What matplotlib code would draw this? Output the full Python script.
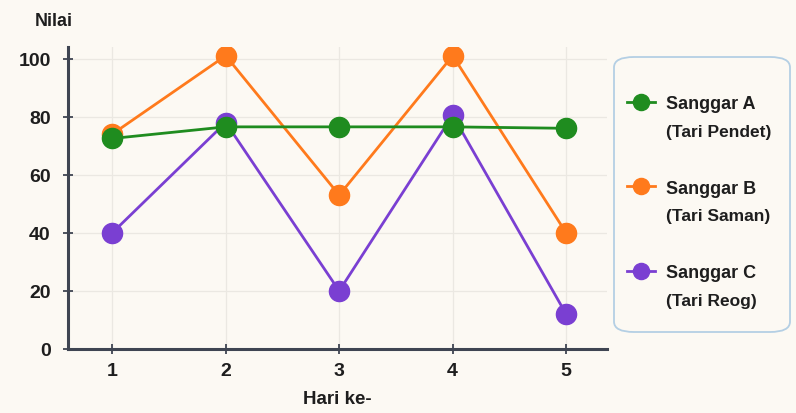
import matplotlib.pyplot as plt
from matplotlib.patches import FancyBboxPatch

hari = [1, 2, 3, 4, 5]
sanggar_a = [72.5, 76.5, 76.5, 76.5, 76]
sanggar_b = [74, 101, 53, 101, 40]
sanggar_c = [40, 78, 20, 80.5, 12]
nama = ['Sanggar A', 'Sanggar B', 'Sanggar C']
tarian = ['(Tari Pendet)', '(Tari Saman)', '(Tari Reog)']
yticks = [0, 20, 40, 60, 80, 100]

plt.rcParams['font.family'] = ['Liberation Sans', 'DejaVu Sans']

W, H = 796, 414
bg = '#fcf9f3'
ink = '#1e1e1e'
warna = ['#1f8c1f', '#ff7a1c', '#7a3fd2']

fig = plt.figure(figsize=(W / 100, H / 100), dpi=100, facecolor=bg)
ax = fig.add_axes([68 / W, 1 - 350 / H, (607 - 68) / W, (350 - 48) / H], facecolor=bg)

# hijau paling atas, ungu paling bawah
for data, c, n, z in zip([sanggar_a, sanggar_b, sanggar_c], warna, nama, [5, 4, 3]):
    ax.plot(hari, data, color=c, lw=2, marker='o', ms=14.5, label=n, zorder=z)

ax.set_xlim(0.61, 5.36)
ax.set_ylim(0, 104)
ax.set_xticks(hari)
ax.set_yticks(yticks)
ax.grid(True, color='#ebe8e2', lw=0.9)
ax.set_axisbelow(True)
for s in ['top', 'right']:
    ax.spines[s].set_visible(False)
for s in ['left', 'bottom']:
    ax.spines[s].set_color('#3f4552')
    ax.spines[s].set_linewidth(2.2)
ax.tick_params(direction='inout', length=7, width=1.3, color='#3f4552', labelsize=14,
               labelcolor=ink)
ax.tick_params(axis='y', pad=9)
ax.tick_params(axis='x', pad=6)
for t in ax.get_xticklabels() + ax.get_yticklabels():
    t.set_fontweight('bold')

fig.text(35 / W, 1 - 21 / H, 'Nilai', fontsize=13, fontweight='bold', color=ink, va='center')
fig.text(337 / W, 1 - 400 / H, 'Hari ke-', fontsize=13.5, fontweight='bold', color=ink,
         ha='center', va='center')

# kotak legenda
box = FancyBboxPatch((614 / W, 1 - 333 / H), (790 - 614) / W, (333 - 58) / H,
                     boxstyle='round,pad=0,rounding_size=0.025', transform=fig.transFigure,
                     facecolor=bg, edgecolor='#b4cfe4', lw=1.3, zorder=-1)
fig.patches.append(box)

leg = ax.legend(loc='upper left', bbox_to_anchor=(627 / W, 1 - 96 / H), bbox_transform=fig.transFigure,
                frameon=False, fontsize=13, handlelength=1.55, handletextpad=0.6,
                labelspacing=3.75, borderpad=0, markerscale=0.8, borderaxespad=0)
leg.set_zorder(10)
for txt, sub in zip(leg.get_texts(), tarian):
    txt.set_fontweight('bold')
    txt.set_color(ink)
    ax.annotate(sub, xy=(0, 0.5), xycoords=txt, xytext=(0, -20), textcoords='offset points',
                va='center', ha='left', fontsize=12.5, fontweight='semibold', color=ink,
                annotation_clip=False, zorder=11)

fig.savefig('out.png', dpi=100, facecolor=bg)
